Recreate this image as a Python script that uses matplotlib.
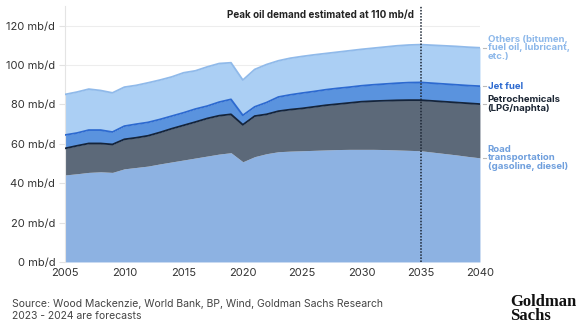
import numpy as np
import matplotlib
matplotlib.use("Agg")
import matplotlib.pyplot as plt

plt.rcParams['font.family'] = ['Inter', 'DejaVu Sans']

years = np.arange(2005, 2041)

# demand by use, mb/d
road = [44.2, 44.8, 45.5, 45.8, 45.5, 47.3, 48.0, 48.7, 49.8, 50.8,
        51.8, 52.8, 53.8, 54.8, 55.5, 50.9, 53.5, 55.0, 56.0, 56.3,
        56.5, 56.7, 56.9, 57.1, 57.2, 57.2, 57.2, 57.1, 56.9, 56.7,
        56.5, 55.8, 55.1, 54.4, 53.6, 52.9]
petchem = [13.5, 14.2, 14.7, 14.4, 14.2, 15.0, 15.1, 15.4, 16.0, 16.9,
           17.6, 18.3, 19.1, 19.5, 19.5, 18.8, 20.6, 20.0, 20.6, 21.1,
           21.5, 22.1, 22.7, 23.1, 23.6, 24.2, 24.5, 24.8, 25.2, 25.5,
           25.7, 26.0, 26.3, 26.6, 27.0, 27.3]
jet = [6.8, 6.5, 6.8, 6.8, 6.3, 6.7, 6.9, 6.8, 6.6, 6.4,
       6.4, 6.6, 6.3, 6.9, 7.6, 4.8, 4.7, 6.0, 7.2, 7.5,
       7.8, 7.8, 7.9, 8.0, 8.0, 8.1, 8.3, 8.5, 8.7, 8.9,
       9.0, 9.0, 9.0, 9.0, 9.0, 9.1]
others = [20.6, 20.8, 20.8, 20.1, 19.9, 19.8, 19.7, 20.1, 20.0, 19.9,
          20.3, 19.4, 19.9, 19.6, 18.6, 17.9, 19.0, 19.3, 18.4, 18.6,
          18.6, 18.6, 18.4, 18.4, 18.5, 18.5, 18.6, 18.8, 19.0, 19.1,
          19.2, 19.3, 19.4, 19.5, 19.5, 19.5]

labels = ["Road\ntransportation\n(gasoline, diesel)",
          "Petrochemicals\n(LPG/naphta)",
          "Jet fuel",
          "Others (bitumen,\nfuel oil, lubricant,\netc.)"]
fill_colors = ['#8DB2E2', '#5C6979', '#5A93DE', '#ABCFF4']
edge_colors = ['#8DB2E2', '#15243A', '#2D6AD0', '#90BAEA']
text_colors = ['#6F9FDD', '#1B2533', '#2D6AD0', '#8DB8EA']

peak_year = 2035

fig = plt.figure(figsize=(5.86, 3.35), dpi=100)
ax = fig.add_axes([0.111, 0.218, 0.708, 0.764])

series = [road, petchem, jet, others]
stack = np.cumsum(np.array(series), axis=0)
base = np.zeros(len(years))
for i, top in enumerate(stack):
    ax.fill_between(years, base, top, color=fill_colors[i], lw=0, zorder=2)
    if i > 0:
        ax.plot(years, top, color=edge_colors[i], lw=1.3, zorder=3)
    base = top

ax.set_xlim(2005, 2040)
ax.set_ylim(0, 130)
ax.set_yticks(range(0, 121, 20))
ax.set_yticklabels([f"{v} mb/d" for v in range(0, 121, 20)])
ax.set_xticks(range(2005, 2041, 5))
ax.tick_params(length=0, labelsize=8, labelcolor='#333333')
ax.tick_params(axis='x', pad=4)
ax.tick_params(axis='y', length=4, width=0.8, color='#e2e2e2', pad=3)
ax.grid(axis='y', color='#000000', alpha=0.07, lw=0.8, zorder=4)
for s in ['top', 'right', 'bottom']:
    ax.spines[s].set_visible(False)
ax.spines['left'].set_color('#e4e4e4')
ax.spines['left'].set_linewidth(0.8)

ax.axvline(peak_year, color='#1B2533', ls=(0, (1, 1)), lw=1.1, zorder=5)
ax.text(peak_year - 0.6, 125.5, "Peak oil demand estimated at 110 mb/d",
        ha='right', va='center', fontsize=7.1, fontweight='bold', color='#222222')

for i, top in enumerate(stack):
    y = top[-1]
    ax.plot([2040.3, 2040.5], [y, y], color='#bbbbbb', lw=0.8, clip_on=False)
    ax.text(2040.65, y, labels[i], ha='left', va='center', fontsize=6.9,
            fontweight='bold', color=text_colors[i], linespacing=0.95)

fig.text(0.02, 0.092, "Source: Wood Mackenzie, World Bank, BP, Wind, Goldman Sachs Research",
         fontsize=7.5, color='#444444', va='center')
fig.text(0.02, 0.056, "2023 - 2024 are forecasts", fontsize=7.5, color='#444444', va='center')
fig.text(0.871, 0.078, "Goldman\nSachs", fontsize=12, fontweight='bold',
         family='Liberation Serif', color='#111111', va='center', ha='left',
         linespacing=0.78)

fig.savefig("out.png", dpi=100)
